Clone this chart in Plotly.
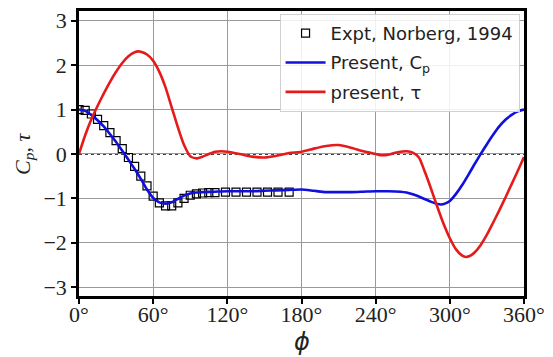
import plotly.graph_objects as go

# ---- data ----
phi_cp = [0, 5, 10, 15, 20, 25, 30, 35, 40, 45, 50, 55, 60, 65, 70, 75, 80, 85, 90, 95, 100,
          110, 120, 130, 140, 150, 160, 170, 180, 190, 200, 210, 220, 230, 240, 250, 260,
          265, 270, 275, 280, 285, 290, 293, 296, 300, 305, 310, 315, 320, 325, 330, 335,
          340, 345, 350, 355, 360]
cp = [1.0, 0.97, 0.88, 0.76, 0.62, 0.45, 0.27, 0.07, -0.13, -0.34, -0.56, -0.8, -0.99, -1.09,
      -1.12, -1.09, -1.01, -0.94, -0.89, -0.87, -0.86,
      -0.85, -0.84, -0.84, -0.84, -0.83, -0.82, -0.81, -0.8, -0.83, -0.86, -0.86, -0.86,
      -0.85, -0.84, -0.84, -0.85, -0.87, -0.91, -0.96, -1.02, -1.08, -1.13, -1.14, -1.12,
      -1.06, -0.9, -0.7, -0.47, -0.23, 0.0, 0.22, 0.43, 0.62, 0.77, 0.88, 0.96, 1.0]

phi_tau = [0, 5, 10, 15, 20, 25, 30, 35, 40, 45, 48, 50, 55, 60, 65, 70, 75, 80, 85, 90, 95,
           100, 105, 110, 115, 120, 130, 140, 150, 160, 170, 180, 190, 200, 210, 220, 230,
           240, 245, 250, 255, 260, 265, 270, 275, 280, 285, 290, 295, 300, 305, 310, 313,
           316, 320, 325, 330, 335, 340, 345, 350, 355, 360]
tau = [0.0, 0.42, 0.78, 1.08, 1.36, 1.62, 1.85, 2.05, 2.2, 2.29, 2.31, 2.3, 2.24, 2.1, 1.85,
       1.5, 1.05, 0.6, 0.2, -0.05, -0.1, -0.06, 0.0, 0.05, 0.06, 0.05, 0.0, -0.06, -0.08,
       -0.04, 0.02, 0.05, 0.12, 0.18, 0.2, 0.14, 0.06, 0.0, -0.03, -0.02, 0.02, 0.05, 0.06,
       0.03, -0.08, -0.42, -0.8, -1.2, -1.58, -1.9, -2.15, -2.29, -2.32, -2.3, -2.22, -2.05,
       -1.82, -1.55, -1.27, -0.98, -0.68, -0.38, -0.07]

phi_exp = [0, 5, 10, 15, 20, 25, 30, 35, 40, 45, 50, 55, 60, 65, 70, 75, 80, 85, 90, 95, 100,
           105, 110, 118.5, 127, 135.5, 144, 152.5, 161, 170]
cp_exp = [1.0, 0.98, 0.9, 0.78, 0.64, 0.48, 0.3, 0.12, -0.08, -0.28, -0.5, -0.72, -0.95,
          -1.1, -1.17, -1.17, -1.1, -1.0, -0.93, -0.9, -0.88, -0.87, -0.87, -0.86, -0.86,
          -0.86, -0.86, -0.86, -0.86, -0.86]

xticks = [0, 60, 120, 180, 240, 300, 360]
xticklabels = ["0°", "60°", "120°", "180°", "240°", "300°", "360°"]
yticks = [-3, -2, -1, 0, 1, 2, 3]
yticklabels = ["−3", "−2", "−1", "0", "1", "2", "3"]

fig = go.Figure()
fig.add_trace(go.Scatter(
    x=phi_exp, y=cp_exp, mode="markers", name="Expt, Norberg, 1994",
    legendgroup="a",
    marker=dict(symbol="square-open", size=8, color="black", line=dict(width=1.2, color="black")),
))
fig.add_trace(go.Scatter(
    x=phi_cp, y=cp, mode="lines", name="Present, C<sub>p</sub>", legendgroup="b",
    line=dict(color="#1010dd", width=2.6, shape="spline", smoothing=0.6),
))
fig.add_trace(go.Scatter(
    x=phi_tau, y=tau, mode="lines", name="present, τ", legendgroup="c",
    line=dict(color="#e51b1b", width=2.6, shape="spline", smoothing=0.6),
))

fig.add_hline(y=0, line=dict(color="black", width=1.6, dash="dot"), layer="below")

fig.update_layout(
    width=553, height=357,
    margin=dict(l=79, r=24, t=8, b=61),
    paper_bgcolor="white", plot_bgcolor="white",
    showlegend=True,
    legend=dict(
        x=0.99, y=0.99, xanchor="right", yanchor="top",
        bgcolor="rgba(255,255,255,0.85)", bordercolor="#d0d0d0", borderwidth=1,
        font=dict(family="DejaVu Sans", size=18, color="#222"),
        traceorder="grouped", tracegroupgap=3, itemwidth=40,
    ),
    xaxis=dict(
        range=[0, 360], tickvals=xticks, ticktext=xticklabels,
        showgrid=True, gridcolor="#9a9a9a", gridwidth=1.2,
        showline=True, mirror=True, linecolor="black", linewidth=2.5,
        ticks="outside", ticklen=5, tickwidth=1.5, tickcolor="black",
        tickfont=dict(family="Liberation Serif", size=22, color="#222"),
        ticklabelstandoff=-8,
        zeroline=False,
    ),
    yaxis=dict(
        range=[-3.2, 3.22], tickvals=yticks, ticktext=yticklabels,
        showgrid=True, gridcolor="#9a9a9a", gridwidth=1.2,
        showline=True, mirror=True, linecolor="black", linewidth=2.5,
        ticks="outside", ticklen=5, tickwidth=1.5, tickcolor="black",
        tickfont=dict(family="Liberation Serif", size=22, color="#222"),
        zeroline=False,
    ),
    annotations=[
        dict(text="<i>ϕ</i>", xref="paper", yref="paper", x=0.5, y=-0.16,
             xanchor="center", yanchor="middle", showarrow=False,
             font=dict(family="DejaVu Sans", size=24, color="#222")),
        dict(text="<i>C<sub>p</sub>, τ</i>", xref="paper", yref="paper", x=-0.125, y=0.5,
             xanchor="center", yanchor="middle", textangle=-90, showarrow=False,
             font=dict(family="Liberation Serif", size=22, color="#222")),
    ],
)

fig.write_html("out.html")
